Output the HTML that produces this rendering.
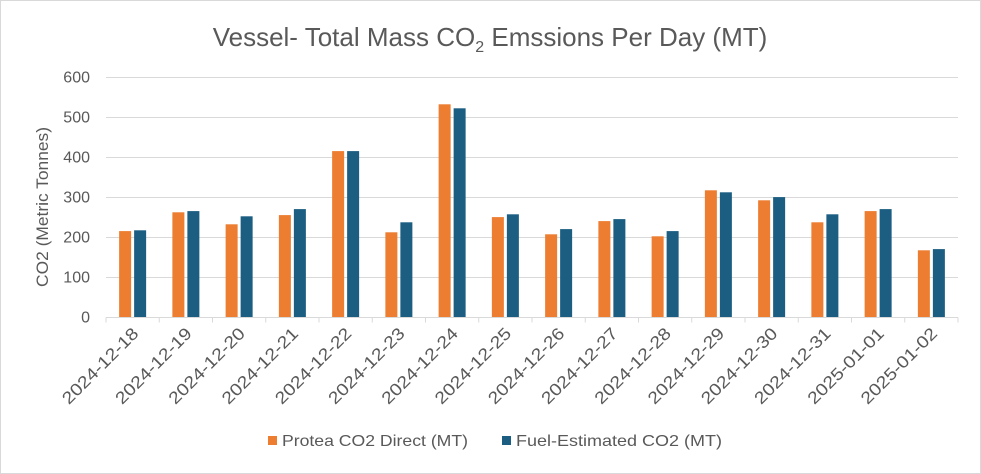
<!DOCTYPE html>
<html><head><meta charset="utf-8"><style>
body{margin:0;background:#fff;}
svg{display:block;font-family:"Liberation Sans",sans-serif;}
</style></head><body>
<svg id="chart" width="981" height="474">
<rect x="0.5" y="0.5" width="980" height="473" fill="#fff" stroke="#d9d9d9"/>
<text x="490" y="46" text-anchor="middle" font-size="26" fill="#595959">Vessel- Total Mass CO<tspan font-size="16" dy="6">2</tspan><tspan dy="-6"> Emssions Per Day (MT)</tspan></text>
<text transform="translate(48,207) rotate(-90)" text-anchor="middle" font-size="17" fill="#595959" textLength="160" lengthAdjust="spacingAndGlyphs">CO2 (Metric Tonnes)</text>
<g id="grid"></g><g id="bars"></g><g id="xaxis"></g>
<g>
<rect x="268" y="436" width="9" height="9" fill="#ed7d31"/>
<text x="282" y="446" font-size="16" fill="#595959" textLength="186" lengthAdjust="spacingAndGlyphs">Protea CO2 Direct (MT)</text>
<rect x="502" y="436" width="9" height="9" fill="#1b5e82"/>
<text x="516" y="446" font-size="16" fill="#595959" textLength="206" lengthAdjust="spacingAndGlyphs">Fuel-Estimated CO2 (MT)</text>
</g>
</svg>
<script>
const categories=["2024-12-18","2024-12-19","2024-12-20","2024-12-21","2024-12-22","2024-12-23","2024-12-24","2024-12-25","2024-12-26","2024-12-27","2024-12-28","2024-12-29","2024-12-30","2024-12-31","2025-01-01","2025-01-02"];
const proteaDirect=[216,263,233,256,416,213,533,251,208,241,203,318,293,238,266,168];
const fuelEstimated=[218,266,253,271,416,238,523,258,221,246,216,313,301,258,271,171];
const yTicks=[0,100,200,300,400,500,600];
const NS="http://www.w3.org/2000/svg";
const x0=106,x1=958,y0=317.5,yTop=77.5,yMax=600;
const bw=(x1-x0)/categories.length;
const y=v=>y0-(v/yMax)*(y0-yTop);
const xc=i=>x0+bw*(i+0.5);
function mk(tag,attrs,parent){const e=document.createElementNS(NS,tag);for(const k in attrs)e.setAttribute(k,attrs[k]);parent.appendChild(e);return e;}
const grid=document.getElementById('grid'),bars=document.getElementById('bars'),xa=document.getElementById('xaxis');
yTicks.forEach(t=>{
 if(t>0){const l=mk('line',{x1:x0,x2:x1,y1:y(t),y2:y(t),stroke:'#d9d9d9','stroke-width':1},grid);
 
 }
 const tx=mk('text',{x:90,y:y(t)+5,'text-anchor':'end','font-size':16,fill:'#595959'},grid);
 tx.textContent=t;
 
 
});
const ax=mk('line',{x1:x0,x2:x1,y1:y0,y2:y0,stroke:'#d9d9d9','stroke-width':1},xa);


for(let i=0;i<=categories.length;i++){
 const t=mk('line',{x1:x0+bw*i,x2:x0+bw*i,y1:y0,y2:y0+5,stroke:'#d9d9d9'},xa);
 
 
}
categories.forEach((c,i)=>{
 const cx=xc(i);
 const b1=mk('rect',{x:cx-13.5,y:y(proteaDirect[i]),width:12,height:y0-y(proteaDirect[i]),fill:'#ed7d31'},bars);
 
 
 const b2=mk('rect',{x:cx+1.5,y:y(fuelEstimated[i]),width:12,height:y0-y(fuelEstimated[i]),fill:'#1b5e82'},bars);
 
 
 const tx=mk('text',{transform:`translate(${cx+7},${y0+17}) rotate(-45)`,'text-anchor':'end','font-size':17,fill:'#595959',textLength:100,lengthAdjust:'spacingAndGlyphs'},xa);
 tx.textContent=c;
 
 
});
</script>
</body></html>
